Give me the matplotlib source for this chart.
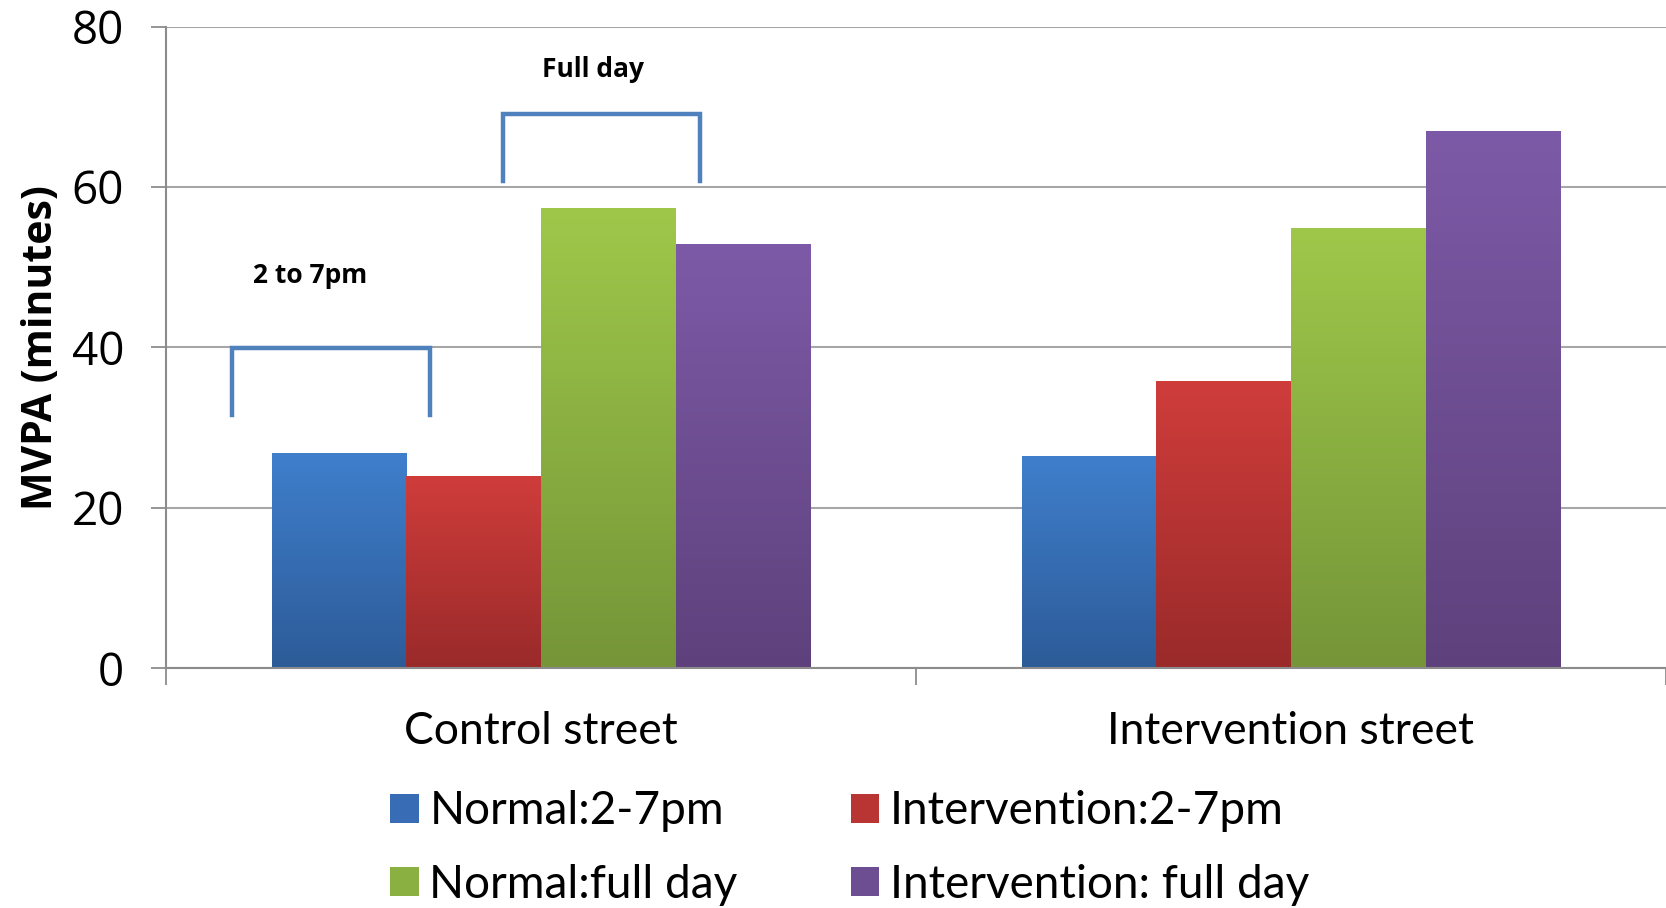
import numpy as np
import matplotlib
matplotlib.use("Agg")
import matplotlib.pyplot as plt
from matplotlib.colors import LinearSegmentedColormap
from matplotlib.patches import Patch

# data
streets = ["Control street", "Intervention street"]
series = ["Normal:2-7pm", "Intervention:2-7pm", "Normal:full day", "Intervention: full day"]
normal_27 = [26.8, 26.5]
interv_27 = [24.0, 35.8]
normal_full = [57.4, 54.9]
interv_full = [52.9, 67.0]
yticks = [0, 20, 40, 60, 80]

# top / bottom colours of the vertical gradient in each bar
tops = ["#3f7fcc", "#cf3d3b", "#9fc84a", "#7d5aa7"]
bottoms = ["#2d5b98", "#9a2a2a", "#759538", "#5e417c"]
mids = ["#386db5", "#b83534", "#8ab041", "#6e4e93"]

fig = plt.figure(figsize=(16.66, 9.08), dpi=100)
ax = fig.add_axes([0.0996, 0.2643, 0.9004, 0.7064])

x = np.arange(len(streets))
w = 0.1794
values = [normal_27, interv_27, normal_full, interv_full]
for i, vals in enumerate(values):
    bars = ax.bar(x + (i - 1.5) * w, vals, w, color=mids[i], zorder=3)
    cmap = LinearSegmentedColormap.from_list("g%d" % i, [bottoms[i], tops[i]])
    grad = np.linspace(0, 1, 256).reshape(-1, 1)
    for b in bars:
        x0, h = b.get_x(), b.get_height()
        im = ax.imshow(grad, cmap=cmap, origin="lower", aspect="auto",
                       extent=[x0, x0 + b.get_width(), 0, h], zorder=4)
        im.set_clip_path(b)

ax.set_xlim(-0.5, 1.5)
ax.set_ylim(0, 80)
ax.set_yticks(yticks)
ax.set_yticklabels([str(t) for t in yticks], fontsize=33, family="Open Sans")
ax.set_xticks(x)
ax.set_xticklabels(streets, fontsize=32, family="Lato")
ax.set_xticks([-0.5, 0.5, 1.5], minor=True)
ax.tick_params(axis="x", which="major", length=0, pad=31)
ax.tick_params(axis="x", which="minor", length=12, width=1.3, color="#8c8c8c")
ax.tick_params(axis="y", length=11, width=1.3, color="#8c8c8c", pad=19)

ax.grid(axis="y", color="#a6a6a6", linewidth=1.5, zorder=0)
for s in ["top", "right"]:
    ax.spines[s].set_visible(False)
for s in ["left", "bottom"]:
    ax.spines[s].set_color("#8c8c8c")
    ax.spines[s].set_linewidth(1.5)
    ax.spines[s].set_zorder(5)

ax.set_ylabel("MVPA (minutes)", fontsize=29.5, fontweight="bold", family="Open Sans", labelpad=7)

# brackets
bc = "#4f81bd"
ax.plot([-0.412, -0.412, -0.148, -0.148], [31.5, 39.9, 39.9, 31.5], color=bc, lw=3.2,
        zorder=6, clip_on=False, solid_joinstyle="miter")
ax.plot([-0.051, -0.051, 0.212, 0.212], [60.8, 69.1, 69.1, 60.8], color=bc, lw=3.2,
        zorder=6, clip_on=False, solid_joinstyle="miter")
ax.text(-0.308, 48.9, "2 to 7pm", fontsize=19, fontweight="bold", family="Open Sans",
        ha="center", va="center")
ax.text(0.069, 74.7, "Full day", fontsize=19, fontweight="bold", family="Open Sans",
        ha="center", va="center")

order = [0, 2, 1, 3]
handles = [Patch(facecolor=mids[i], label=series[i]) for i in order]
fig.legend(handles=handles, ncol=2, loc="center", bbox_to_anchor=(0.510, 0.066),
           frameon=False, handlelength=0.62, handleheight=0.6,
           handletextpad=0.23, columnspacing=2.47, labelspacing=0.68,
           borderpad=0, prop={"family": "Lato", "size": 33})

fig.savefig("out.png", dpi=100)
